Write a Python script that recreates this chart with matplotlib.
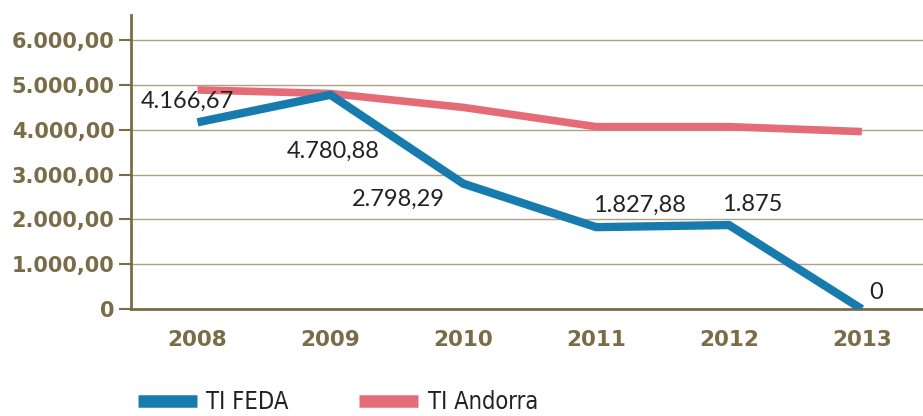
import matplotlib.pyplot as plt
from matplotlib.ticker import FuncFormatter

# Series
years = ['2008', '2009', '2010', '2011', '2012', '2013']
ti_feda = [4166.67, 4780.88, 2798.29, 1827.88, 1875, 0]
ti_andorra = [4890, 4810, 4500, 4070, 4070, 3960]
feda_labels = ['4.166,67', '4.780,88', '2.798,29', '1.827,88', '1.875', '0']

brown = '#7b6c48'
blue = '#177cad'
pink = '#e56b76'

fig = plt.figure(figsize=(9.23, 4.16), dpi=100)
ax = fig.add_axes([0.142, 0.257, 0.858, 0.707])

x = range(len(years))
ax.plot(x, ti_andorra, color=pink, lw=5.5, solid_capstyle='butt', label='TI Andorra', zorder=3)
ax.plot(x, ti_feda, color=blue, lw=6, solid_capstyle='butt', label='TI FEDA', zorder=4)

# value labels on the FEDA line (offsets in points)
offsets = [(-7, 15), (2, -41), (-47, -11), (31, 16), (17, 15), (10, 12)]
for i, (v, lab) in enumerate(zip(ti_feda, feda_labels)):
    ax.annotate(lab, (i, v), xytext=offsets[i], textcoords='offset points',
                ha='center', va='center', fontsize=17, family='Lato',
                color='#222222', zorder=5)

ax.set_xlim(-0.5, 5.46)
ax.set_ylim(0, 6562)
ax.set_yticks(range(0, 7000, 1000))
ax.yaxis.set_major_formatter(FuncFormatter(
    lambda v, p: '0' if v == 0 else f'{v:,.2f}'.replace(',', 'X').replace('.', ',').replace('X', '.')))
ax.set_xticks(list(x))
ax.set_xticklabels(years)

ax.grid(axis='y', color='#aea285', lw=1)
ax.set_axisbelow(True)
for s in ['top', 'right']:
    ax.spines[s].set_visible(False)
for s in ['left', 'bottom']:
    ax.spines[s].set_color(brown)
    ax.spines[s].set_linewidth(2)

ax.tick_params(axis='y', length=9, width=1.5, color=brown, pad=3,
               labelsize=15, labelcolor=brown)
ax.tick_params(axis='x', length=0, pad=15, labelsize=15.5, labelcolor=brown)
for t in ax.get_xticklabels() + ax.get_yticklabels():
    t.set_fontweight('bold')

handles, labels = ax.get_legend_handles_labels()
leg = fig.legend(handles[::-1], labels[::-1], loc='upper left', bbox_to_anchor=(0.149, 0.062),
                 ncol=2, frameon=False, fontsize=17, handlelength=2.5, handletextpad=0.4,
                 columnspacing=3.0, borderaxespad=0, borderpad=0)
for line in leg.get_lines():
    line.set_linewidth(9)
for t in leg.get_texts():
    t.set_color('#222222')
    t.set_fontstretch('condensed')

fig.savefig('out.png', dpi=100)
